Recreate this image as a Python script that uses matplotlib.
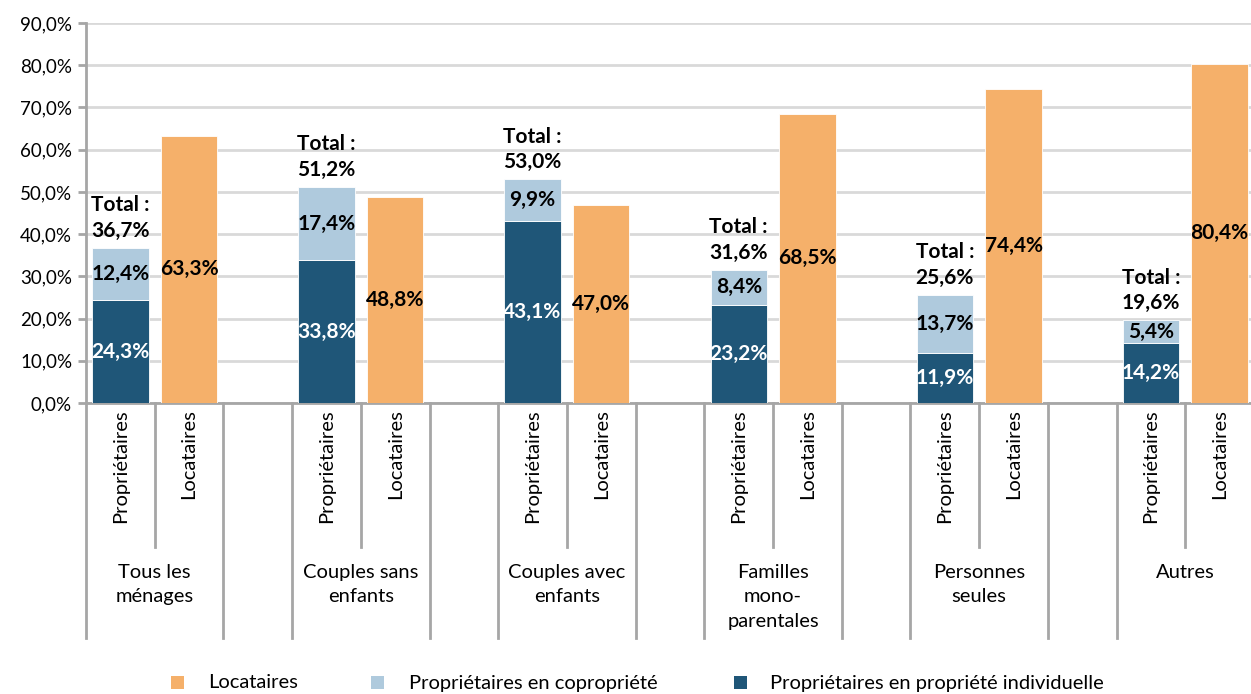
import matplotlib
matplotlib.use("Agg")
import matplotlib.pyplot as plt
from matplotlib.patches import Rectangle
from matplotlib.lines import Line2D
import matplotlib.transforms as mtransforms

plt.rcParams['font.family'] = ['Lato', 'DejaVu Sans']

groups = ["Tous les\nménages", "Couples sans\nenfants", "Couples avec\nenfants",
          "Familles\nmono-\nparentales", "Personnes\nseules", "Autres"]
sub_labels = ["Propriétaires", "Locataires"]
prop_indiv = [24.3, 33.8, 43.1, 23.2, 11.9, 14.2]
prop_copro = [12.4, 17.4, 9.9, 8.4, 13.7, 5.4]
prop_total = [36.7, 51.2, 53.0, 31.6, 25.6, 19.6]
locataires = [63.3, 48.8, 47.0, 68.5, 74.4, 80.4]
legend_labels = ["Locataires", "Propriétaires en copropriété",
                 "Propriétaires en propriété individuelle"]
yticks = [0, 10, 20, 30, 40, 50, 60, 70, 80, 90]

C_IND = "#1F5678"
C_COP = "#AFCADD"
C_LOC = "#F5B06A"
GRID = "#D9D9D9"
AX = "#A6A6A6"

W, H = 1251, 694
fig = plt.figure(figsize=(W / 100, H / 100), dpi=100)
x0, x1 = 86, 1254
y0, y1 = 403, 23
ax = fig.add_axes([x0 / W, (H - y0) / H, (x1 - x0) / W, (y0 - y1) / H])

n = len(groups)
nslots = 3 * n - 1
ax.set_xlim(0, nslots)
ax.set_ylim(0, 90)

def fmt(v):
    return f"{v:.1f}".replace(".", ",") + "%"

bw = 0.82
prop_x = [3 * g + 0.5 for g in range(n)]
loc_x = [3 * g + 1.5 for g in range(n)]

ax.bar(prop_x, prop_indiv, width=bw, color=C_IND, edgecolor="white", linewidth=0.6, zorder=3)
ax.bar(prop_x, prop_copro, width=bw, bottom=prop_indiv, color=C_COP, edgecolor="white", linewidth=0.6, zorder=3)
ax.bar(loc_x, locataires, width=bw, color=C_LOC, edgecolor="white", linewidth=0.6, zorder=3)

fs_lab = 15
for g in range(n):
    ax.text(prop_x[g], prop_indiv[g] / 2, fmt(prop_indiv[g]), ha="center", va="center",
            color="white", fontsize=fs_lab, fontweight="bold", zorder=4)
    ax.text(prop_x[g], prop_indiv[g] + prop_copro[g] / 2, fmt(prop_copro[g]), ha="center",
            va="center", color="black", fontsize=fs_lab, fontweight="bold", zorder=4)
    ax.text(loc_x[g], locataires[g] / 2, fmt(locataires[g]), ha="center", va="center",
            color="black", fontsize=fs_lab, fontweight="bold", zorder=4)
    ax.annotate("Total :\n" + fmt(prop_total[g]), xy=(prop_x[g], prop_indiv[g] + prop_copro[g]),
                xytext=(0, 5), textcoords="offset points", ha="center", va="bottom",
                fontsize=fs_lab, fontweight="bold", linespacing=1.35, zorder=4)

# y axis
ax.set_yticks(yticks)
ax.set_yticklabels([fmt(v) for v in yticks], fontsize=13.5)
ax.yaxis.grid(True, color=GRID, linewidth=2, zorder=0)
ax.set_axisbelow(True)
for s in ["top", "right"]:
    ax.spines[s].set_visible(False)
ax.spines["left"].set_color(AX)
ax.spines["left"].set_linewidth(2)
ax.spines["bottom"].set_color(AX)
ax.spines["bottom"].set_linewidth(2)
ax.tick_params(axis="y", length=6, width=2, color=AX, pad=4)
ax.set_xticks([])

# multi-level category axis
trans = mtransforms.blended_transform_factory(ax.transData, fig.transFigure)
def fy(py):
    return (H - py) / H

for g in range(n):
    left = 3 * g
    mid = 3 * g + 1
    right = 3 * g + 2
    for xx in (left, right):
        fig.add_artist(Line2D([xx, xx], [fy(403), fy(638)], transform=trans, color=AX,
                              linewidth=2, clip_on=False))
    fig.add_artist(Line2D([mid, mid], [fy(403), fy(547)], transform=trans, color=AX,
                          linewidth=2, clip_on=False))
    for k, lab in enumerate(sub_labels):
        fig.text(3 * g + 0.5 + k, fy(409), lab, transform=trans, rotation=90,
                 ha="center", va="top", fontsize=14.5)
    fig.text(mid, fy(564), groups[g], transform=trans, ha="center", va="top",
             fontsize=14.5, linespacing=1.52)

# legend
leg_colors = [C_LOC, C_COP, C_IND]
sq_x = [177, 377, 740]
tx_x = [208, 409, 770]
for c, sx, tx, lab in zip(leg_colors, sq_x, tx_x, legend_labels):
    fig.add_artist(Rectangle(((sx - 6.5) / W, fy(689)), 13 / W, 13 / H, transform=fig.transFigure,
                             facecolor=c, edgecolor="none"))
    fig.text(tx / W, fy(683), lab, ha="left", va="center", fontsize=14.5)

fig.savefig("out.png", dpi=100)
